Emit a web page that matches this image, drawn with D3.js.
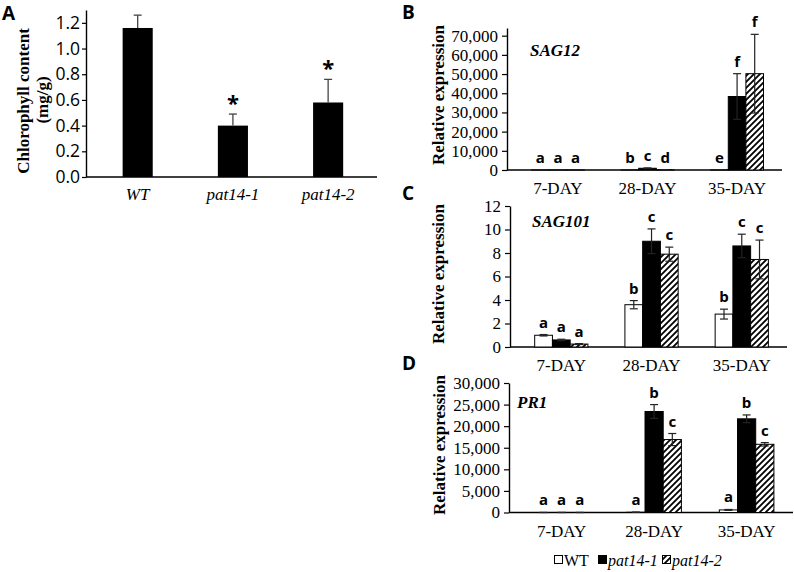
<!DOCTYPE html>
<html><head><meta charset="utf-8">
<script src="https://cdn.jsdelivr.net/npm/d3@7"></script>
<style>
body{margin:0;background:#fff}
</style>
</head><body>
<svg id="c" width="794" height="572"></svg>
<script>
// ---------- DATA ----------
// Panel A: chlorophyll content
const genotypes = ["WT", "pat14-1", "pat14-2"];
const chlorophyll = [1.16, 0.40, 0.58];
const chlorophyllErr = [0.10, 0.09, 0.18];
const chlorophyllSig = ["", "*", "*"];
const chlTicks = [0, 0.2, 0.4, 0.6, 0.8, 1.0, 1.2];

// Panels B-D: relative expression
const days = ["7-DAY", "28-DAY", "35-DAY"];
const series = ["WT", "pat14-1", "pat14-2"];

// SAG12
const sag12WT = [1, 30, 120];
const sag12P1 = [5, 900, 38300];
const sag12P2 = [3, 150, 50200];
const sag12WTErr = [0.1, 10, 40];
const sag12P1Err = [1, 200, 11900];
const sag12P2Err = [1, 50, 20500];
const sag12Letters = [["a", "b", "e"], ["a", "c", "f"], ["a", "d", "f"]];
const sag12Ticks = [0, 10000, 20000, 30000, 40000, 50000, 60000, 70000];

// SAG101
const sag101WT = [1.0, 3.6, 2.8];
const sag101P1 = [0.6, 9.0, 8.6];
const sag101P2 = [0.25, 7.9, 7.45];
const sag101WTErr = [0.06, 0.35, 0.42];
const sag101P1Err = [0.06, 1.05, 1.0];
const sag101P2Err = [0.04, 0.6, 1.65];
const sag101Letters = [["a", "b", "b"], ["a", "c", "c"], ["a", "c", "c"]];
const sag101Ticks = [0, 2, 4, 6, 8, 10, 12];

// PR1
const pr1WT = [1, 50, 600];
const pr1P1 = [5, 23400, 21700];
const pr1P2 = [3, 16900, 15800];
const pr1WTErr = [0.1, 10, 100];
const pr1P1Err = [1, 1600, 900];
const pr1P2Err = [1, 1400, 400];
const pr1Letters = [["a", "a", "a"], ["a", "b", "b"], ["a", "c", "c"]];
const pr1Ticks = [0, 5000, 10000, 15000, 20000, 25000, 30000];

// ---------- DRAWING ----------
const SERIF = '"Liberation Serif", "Times New Roman", "DejaVu Serif", serif';
const SANS = '"Open Sans", "Liberation Sans", Arial, sans-serif';
const svg = d3.select("#c");
const defs = svg.append("defs");
const pat = defs.append("pattern").attr("id", "hatch")
  .attr("patternUnits", "userSpaceOnUse").attr("width", 6).attr("height", 6);
pat.append("rect").attr("width", 6).attr("height", 6).attr("fill", "#fff");
pat.append("path").attr("d", "M-1.5,1.5 l3,-3 M0,6 l6,-6 M4.5,7.5 l3,-3")
  .attr("stroke", "#000").attr("stroke-width", 1.8);

const fills = ["#fff", "#000", "url(#hatch)"];

function yAxis(g, y, ticks, fmt, fam, fs, size, pad) {
  const ax = g.append("g").attr("transform", `translate(${y.x0},0)`)
    .call(d3.axisLeft(y).tickValues(ticks).tickFormat(fmt).tickSize(size).tickPadding(pad).tickSizeOuter(0));
  ax.attr("font-family", null).attr("font-size", null);
  ax.select(".domain").attr("stroke", "#000").attr("stroke-width", 1.4);
  ax.selectAll(".tick line").attr("stroke", "#000").attr("stroke-width", 1.2);
  ax.selectAll(".tick text").style("font-family", fam).style("font-size", fs + "px").attr("fill", "#000");
  return ax;
}

// ---- Panel A ----
(function () {
  const x0 = 86, x1 = 377, base = 177, top = 10;
  const x = d3.scaleBand().domain(genotypes).range([x0, x1])
    .paddingInner(0.684).paddingOuter(0.37).align(0.52);
  const y = d3.scaleLinear().domain([0, 1.3]).range([base, top]);
  y.x0 = x0;
  const g = svg.append("g");
  yAxis(g, y, chlTicks, d3.format(".1f"), SANS, 17.5, 4, 2);
  g.append("line").attr("x1", x0).attr("x2", x1).attr("y1", base).attr("y2", base)
    .attr("stroke", "#000").attr("stroke-width", 1.4);
  const data = genotypes.map((k, i) => ({ k, v: chlorophyll[i], e: chlorophyllErr[i], s: chlorophyllSig[i] }));
  g.selectAll("rect.bar").data(data).join("rect").attr("class", "bar")
    .attr("x", d => x(d.k)).attr("width", x.bandwidth())
    .attr("y", d => y(d.v)).attr("height", d => y(0) - y(d.v)).attr("fill", "#000");
  const eb = g.selectAll("g.err").data(data).join("g").attr("class", "err")
    .attr("stroke", "#444").attr("stroke-width", 1.3);
  eb.append("line").attr("x1", d => x(d.k) + x.bandwidth() / 2).attr("x2", d => x(d.k) + x.bandwidth() / 2)
    .attr("y1", d => y(d.v)).attr("y2", d => y(d.v + d.e));
  eb.append("line").attr("x1", d => x(d.k) + x.bandwidth() / 2 - 4).attr("x2", d => x(d.k) + x.bandwidth() / 2 + 4)
    .attr("y1", d => y(d.v + d.e)).attr("y2", d => y(d.v + d.e));
  g.selectAll("text.sig").data(data).join("text").attr("class", "sig")
    .attr("x", d => x(d.k) + x.bandwidth() / 2).attr("y", d => y(d.v + d.e) - 3)
    .attr("text-anchor", "middle").style("font-family", SANS).style("font-size", "22px").style("font-weight", "bold")
    .text(d => d.s);
  g.selectAll("text.cat").data(genotypes).join("text").attr("class", "cat")
    .attr("x", d => x(d) + x.bandwidth() / 2).attr("y", base + 23)
    .attr("text-anchor", "middle").style("font-family", SERIF).style("font-size", "17px").style("font-style", "italic")
    .text(d => d);
  g.append("text").attr("transform", "translate(29,101) rotate(-90)")
    .attr("text-anchor", "middle").style("font-family", SERIF).style("font-size", "17px").style("font-weight", "bold")
    .text("Chlorophyll content");
  g.append("text").attr("transform", "translate(48,100) rotate(-90)")
    .attr("text-anchor", "middle").style("font-family", SERIF).style("font-size", "17px").style("font-weight", "bold")
    .text("(mg/g)");
  g.append("text").attr("x", 2).attr("y", 20)
    .style("font-family", SANS).style("font-size", "19px").style("font-weight", "bold").text("A");
})();

// ---- Panels B-D ----
function exprPanel(o) {
  const x = d3.scaleBand().domain(days).range([o.x0, o.x1])
    .paddingInner(0.41).paddingOuter(0.24).align(0.57);
  const xs = d3.scaleBand().domain(series).range([0, x.bandwidth()]);
  const y = d3.scaleLinear().domain([0, o.ymax]).range([o.base, o.top]);
  y.x0 = o.x0;
  const g = svg.append("g");
  yAxis(g, y, o.ticks, o.fmt, SERIF, 17, 5, 4);
  g.append("line").attr("x1", o.x0).attr("x2", o.x1).attr("y1", o.base).attr("y2", o.base)
    .attr("stroke", "#000").attr("stroke-width", 1.4);

  const data = [];
  series.forEach((s, si) => days.forEach((d, di) => data.push({
    s, si, d, v: o.vals[si][di], e: o.errs[si][di], l: o.letters[si][di]
  })));
  const cx = d => x(d.d) + xs(d.s) + xs.bandwidth() / 2;

  g.selectAll("rect.bar").data(data).join("rect").attr("class", "bar")
    .attr("x", d => x(d.d) + xs(d.s)).attr("width", xs.bandwidth())
    .attr("y", d => y(d.v)).attr("height", d => y(0) - y(d.v))
    .attr("fill", d => fills[d.si]).attr("stroke", "#000").attr("stroke-width", 1);

  const eb = g.selectAll("g.err").data(data).join("g").attr("class", "err")
    .attr("stroke", "#222").attr("stroke-width", 1.2);
  eb.append("line").attr("x1", cx).attr("x2", cx)
    .attr("y1", d => y(Math.max(0, d.v - d.e))).attr("y2", d => y(d.v + d.e));
  eb.append("line").attr("x1", d => cx(d) - 4).attr("x2", d => cx(d) + 4)
    .attr("y1", d => y(d.v + d.e)).attr("y2", d => y(d.v + d.e));
  eb.append("line").attr("x1", d => cx(d) - 4).attr("x2", d => cx(d) + 4)
    .attr("y1", d => y(Math.max(0, d.v - d.e))).attr("y2", d => y(Math.max(0, d.v - d.e)));

  g.selectAll("text.let").data(data).join("text").attr("class", "let")
    .attr("x", cx).attr("y", d => y(d.v + d.e) - 7)
    .attr("text-anchor", "middle").style("font-family", SANS).style("font-size", "15px").style("font-weight", "bold")
    .text(d => d.l);

  g.selectAll("text.day").data(days).join("text").attr("class", "day")
    .attr("x", d => x(d) + x.bandwidth() / 2).attr("y", o.base + 24)
    .attr("text-anchor", "middle").style("font-family", SERIF).style("font-size", "17px").text(d => d);

  g.append("text")
    .attr("transform", `translate(${o.titleX},${o.titleY}) rotate(-90)`)
    .attr("text-anchor", "middle").style("font-family", SERIF).style("font-size", "17px").style("font-weight", "bold")
    .text("Relative expression");
  g.append("text").attr("x", o.geneX).attr("y", o.geneY)
    .style("font-family", SERIF).style("font-size", "17px").style("font-weight", "bold").style("font-style", "italic")
    .text(o.gene);
  g.append("text").attr("x", 402).attr("y", o.labelY)
    .style("font-family", SANS).style("font-size", "19px").style("font-weight", "bold").text(o.label);
}

exprPanel({
  label: "B", labelY: 19, gene: "SAG12", geneX: 530, geneY: 56,
  x0: 507, x1: 782, base: 170, top: 28, ymax: 74000,
  ticks: sag12Ticks, fmt: d3.format(","), titleX: 444, titleY: 95,
  vals: [sag12WT, sag12P1, sag12P2], errs: [sag12WTErr, sag12P1Err, sag12P2Err], letters: sag12Letters
});
exprPanel({
  label: "C", labelY: 200, gene: "SAG101", geneX: 532, geneY: 227,
  x0: 510, x1: 787, base: 347, top: 206, ymax: 12,
  ticks: sag101Ticks, fmt: d3.format("d"), titleX: 444, titleY: 274,
  vals: [sag101WT, sag101P1, sag101P2], errs: [sag101WTErr, sag101P1Err, sag101P2Err], letters: sag101Letters
});
exprPanel({
  label: "D", labelY: 370, gene: "PR1", geneX: 517, geneY: 408,
  x0: 509, x1: 793, base: 512.5, top: 383, ymax: 30000,
  ticks: pr1Ticks, fmt: d3.format(","), titleX: 445, titleY: 445,
  vals: [pr1WT, pr1P1, pr1P2], errs: [pr1WTErr, pr1P1Err, pr1P2Err], letters: pr1Letters
});

// ---- Legend ----
(function () {
  const lg = svg.append("g").attr("transform", "translate(554,566)");
  const items = [{ k: "WT", it: false, w: 44 }, { k: "pat14-1", it: true, w: 64 }, { k: "pat14-2", it: true, w: 60 }];
  let xo = 0;
  items.forEach((d, i) => {
    lg.append("rect").attr("x", xo + 0.5).attr("y", -10.5).attr("width", 8).attr("height", 8)
      .attr("fill", fills[i]).attr("stroke", "#000").attr("stroke-width", 1);
    lg.append("text").attr("x", xo + 10).attr("y", 0)
      .style("font-family", SERIF).style("font-size", "16px").style("font-style", d.it ? "italic" : "normal").text(d.k);
    xo += d.w;
  });
})();
</script>
</body></html>
